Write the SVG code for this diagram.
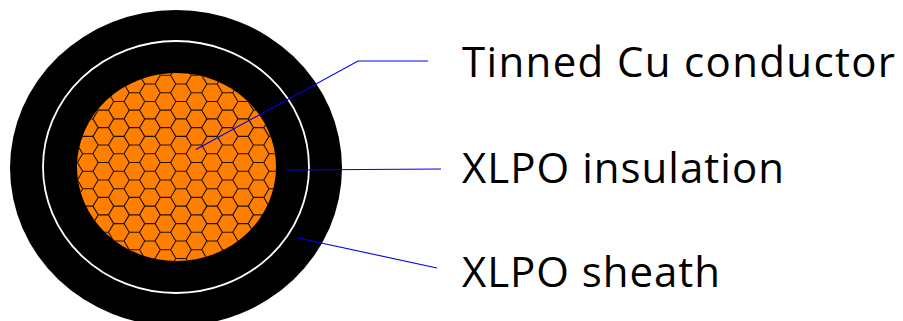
<svg xmlns="http://www.w3.org/2000/svg" width="903" height="321" viewBox="0 0 903 321">
<style>
.lbl{font-family:"Open Sans",Lato,sans-serif;font-size:42px;fill:#000;font-variant-ligatures:none}
.lead{fill:none;stroke:#0000f0;stroke-width:1.1}
.cell{fill:none;stroke:#1f1000;stroke-width:1.1}
</style>
<defs>
<clipPath id="core"><ellipse cx="176.500" cy="167" rx="99.500" ry="94"/></clipPath>
<path id="tile" class="cell" d="M0 0H10.35L15.53 8.72H25.88L31.06 0M25.88 8.72L31.06 17.45M15.53 8.72L10.35 17.45"/>
<g id="row">
<use href="#tile" x="51.56"/><use href="#tile" x="82.62"/><use href="#tile" x="113.68"/><use href="#tile" x="144.74"/>
<use href="#tile" x="175.8"/><use href="#tile" x="206.86"/><use href="#tile" x="237.92"/><use href="#tile" x="268.98"/>
</g>
</defs>
<rect width="903" height="321" fill="#fff"/>
<g id="sheath">
<ellipse cx="176" cy="168" rx="166" ry="158" fill="#000"/>
</g>
<g id="insulation">
<ellipse cx="176" cy="167" rx="133" ry="126" fill="#000" stroke="#fff" stroke-width="1.8"/>
</g>
<g id="conductor">
<ellipse cx="176.500" cy="167" rx="99.500" ry="94" fill="#ff8000"/>
<g clip-path="url(#core)">
<use href="#row" y="49.1"/><use href="#row" y="66.55"/><use href="#row" y="84"/><use href="#row" y="101.45"/>
<use href="#row" y="118.9"/><use href="#row" y="136.35"/><use href="#row" y="153.8"/><use href="#row" y="171.25"/>
<use href="#row" y="188.7"/><use href="#row" y="206.15"/><use href="#row" y="223.6"/><use href="#row" y="241.05"/>
<use href="#row" y="258.5"/>
</g>
</g>
<g id="connectors">
<path class="lead" d="M196 149.500L358 61H428"/>
<path class="lead" d="M286 170L441 169"/>
<path class="lead" d="M298 238L437 268"/>
</g>
<g id="labels">
<text class="lbl" x="462" y="77" textLength="433">Tinned Cu conductor</text>
<text class="lbl" x="462" y="183" textLength="322">XLPO insulation</text>
<text class="lbl" x="462" y="287" textLength="258">XLPO sheath</text>
</g>
</svg>
